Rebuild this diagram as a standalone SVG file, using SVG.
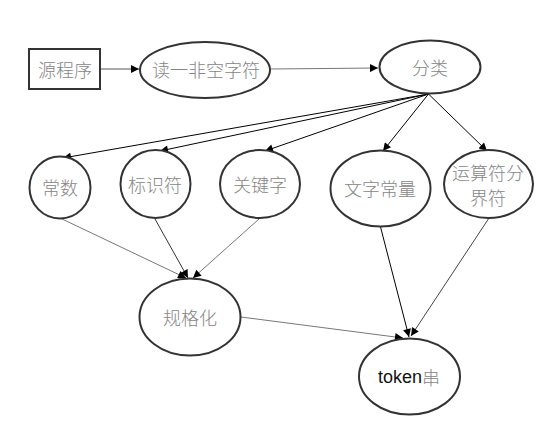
<svg xmlns="http://www.w3.org/2000/svg" width="554" height="435" viewBox="0 0 554 435">
<style>
.n{fill:#fff;stroke:#333;stroke-width:2}
.t{font-family:"Noto Sans CJK SC","Liberation Sans",sans-serif;font-size:18px;font-weight:300;fill:#858585;text-anchor:middle;dominant-baseline:central}
.k{fill:#111;font-weight:400;font-family:"Liberation Sans",Arial,sans-serif}
.e{fill:none;stroke-width:1}
</style>
<defs>
<marker id="a" viewBox="0 0 10 10" refX="10" refY="5" markerWidth="9" markerHeight="8" markerUnits="userSpaceOnUse" orient="auto"><path d="M0,0L10,5L0,10z" fill="#000"/></marker>
</defs>
<rect width="554" height="435" fill="#fff"/>
<g id="edges">
<line class="e" x1="100" y1="69" x2="139" y2="69" stroke="#555" stroke-width="1.5" marker-end="url(#a)"/>
<line class="e" x1="270" y1="69" x2="378" y2="68" stroke="#777" stroke-width="1.5" marker-end="url(#a)"/>
<line class="e" x1="428.5" y1="94" x2="63" y2="158" stroke="#000" marker-end="url(#a)"/>
<line class="e" x1="428.5" y1="94" x2="160" y2="151" stroke="#000" marker-end="url(#a)"/>
<line class="e" x1="428.5" y1="94" x2="265" y2="151" stroke="#000" marker-end="url(#a)"/>
<line class="e" x1="428.5" y1="94" x2="383" y2="151" stroke="#000" marker-end="url(#a)"/>
<line class="e" x1="428.5" y1="94" x2="487" y2="151" stroke="#000" marker-end="url(#a)"/>
<line class="e" x1="60" y1="218" x2="186" y2="278" stroke="#777" stroke-width="1.5" marker-end="url(#a)"/>
<line class="e" x1="155" y1="219" x2="188" y2="278" stroke="#333" marker-end="url(#a)"/>
<line class="e" x1="259" y1="219" x2="193" y2="278" stroke="#777" stroke-width="1.3" marker-end="url(#a)"/>
<line class="e" x1="241" y1="317" x2="403" y2="338" stroke="#777" stroke-width="1.5" marker-end="url(#a)"/>
<line class="e" x1="380" y1="225" x2="409" y2="337" stroke="#000" marker-end="url(#a)"/>
<line class="e" x1="489" y1="218" x2="411" y2="336" stroke="#444" marker-end="url(#a)"/>
</g>
<g id="src"><rect class="n" x="29" y="49" width="71" height="40"/><text class="t" x="65" y="69">源程序</text></g>
<g id="read"><ellipse class="n" cx="205" cy="70" rx="65" ry="28"/><text class="t" x="206" y="69">读一非空字符</text></g>
<g id="classify"><ellipse class="n" cx="430" cy="67" rx="50.5" ry="26.5"/><text class="t" x="430" y="67">分类</text></g>
<g id="const"><ellipse class="n" cx="60" cy="187.5" rx="30.5" ry="31"/><text class="t" x="60" y="187">常数</text></g>
<g id="ident"><ellipse class="n" cx="155.5" cy="184" rx="35" ry="34"/><text class="t" x="155" y="184">标识符</text></g>
<g id="keyword"><ellipse class="n" cx="260" cy="184" rx="40" ry="34"/><text class="t" x="260" y="184">关键字</text></g>
<g id="literal"><ellipse class="n" cx="380.5" cy="188.5" rx="50" ry="38"/><text class="t" x="380" y="188">文字常量</text></g>
<g id="operator"><ellipse class="n" cx="488.5" cy="184" rx="44.5" ry="34"/><text class="t" x="488" y="172">运算符分</text><text class="t" x="488" y="197">界符</text></g>
<g id="normalize"><ellipse class="n" cx="190" cy="317" rx="50.5" ry="38.5"/><text class="t" x="190" y="317">规格化</text></g>
<g id="token"><ellipse class="n" cx="409.5" cy="376.5" rx="50.5" ry="38"/><text class="t" x="409" y="377"><tspan class="k">token</tspan>串</text></g>
</svg>
